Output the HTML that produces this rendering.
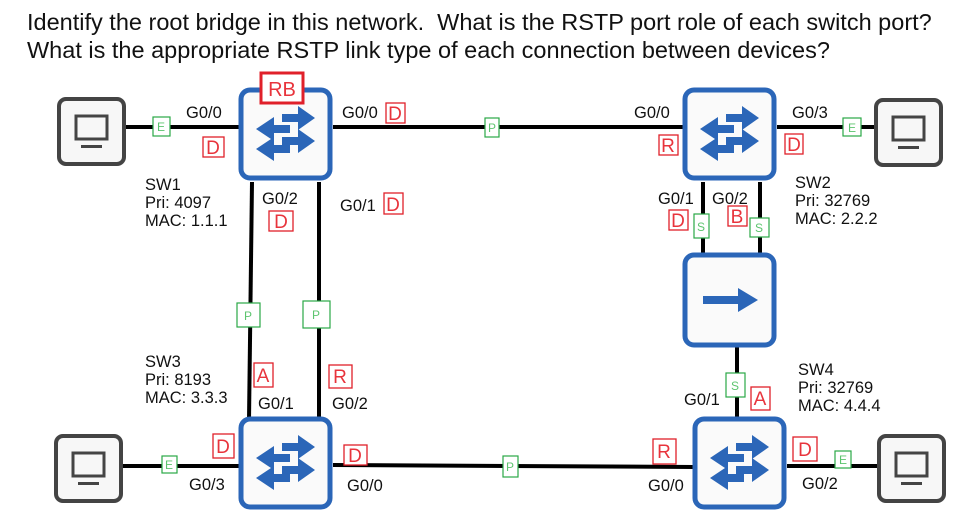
<!DOCTYPE html>
<html><head><meta charset="utf-8"><style>
html,body{margin:0;padding:0;background:#fff;}
svg{display:block;}
text{font-family:"Liberation Sans",Arial,sans-serif;}
</style></head><body>
<svg width="972" height="518" viewBox="0 0 972 518" xmlns="http://www.w3.org/2000/svg">
<defs>
<g id="sw">
<rect x="3" y="3" width="89" height="88" rx="9" fill="#fafafa" stroke="#2b66b8" stroke-width="5"/>
<polygon points="44,27 60,27 60,19 77,31 60,43 60,35 44,35" fill="#2b66b8"/>
<polygon points="44,50 60,50 60,42 77,54 60,66 60,58 44,58" fill="#2b66b8"/>
<polygon points="52,38 36,38 36,30 18,42 36,54 36,46 52,46" fill="#2b66b8"/>
<polygon points="52,58 36,58 36,50 18,62 36,74 36,66 52,66" fill="#2b66b8"/>
</g>
<g id="pc">
<rect x="2" y="2" width="65" height="65" rx="7" fill="#f7f7f7" stroke="#444" stroke-width="4"/>
<rect x="19" y="19" width="31" height="23" fill="none" stroke="#444" stroke-width="3"/>
<rect x="24" y="48" width="21" height="3" fill="#444"/>
</g>
</defs>
<text x="27" y="30" font-size="23.5" fill="#111">Identify the root bridge in this network.&#160; What is the RSTP port role of each switch port?</text>
<text x="27" y="58" font-size="23.5" fill="#111">What is the appropriate RSTP link type of each connection between devices?</text>

<g stroke="#000" stroke-width="4" fill="none">
<line x1="125" y1="127" x2="240" y2="127"/>
<line x1="333" y1="127" x2="684" y2="127"/>
<line x1="777" y1="127" x2="876" y2="127"/>
<line x1="252" y1="182" x2="249" y2="420"/>
<line x1="319" y1="182" x2="319" y2="420"/>
<line x1="703" y1="182" x2="703" y2="255"/>
<line x1="760" y1="182" x2="760" y2="255"/>
<line x1="737" y1="346" x2="737" y2="420"/>
<line x1="122" y1="466" x2="240" y2="466"/>
<line x1="333" y1="465" x2="694" y2="467"/>
<line x1="787" y1="466" x2="878" y2="466"/>
</g>

<use href="#sw" x="238" y="87"/>
<use href="#sw" x="682" y="87"/>
<use href="#sw" x="238" y="416"/>
<use href="#sw" x="692" y="416"/>
<g>
<rect x="685" y="255" width="89" height="90" rx="9" fill="#fafafa" stroke="#2b66b8" stroke-width="5"/>
<polygon points="703,296 738,296 738,288 758,300 738,312 738,304 703,304" fill="#2b66b8"/>
</g>
<use href="#pc" x="57" y="97"/>
<use href="#pc" x="874" y="98"/>
<use href="#pc" x="54" y="434"/>
<use href="#pc" x="877" y="434"/>

<rect x="261" y="73" width="42" height="30" fill="#fff" stroke="#e0202a" stroke-width="3"/>
<text x="282" y="96" font-size="20" fill="#e8343c" text-anchor="middle">RB</text>

<g font-size="16.5" fill="#111">
<text x="186" y="118">G0/0</text>
<text x="342" y="118">G0/0</text>
<text x="262" y="204">G0/2</text>
<text x="340" y="211">G0/1</text>
<text x="145" y="190">SW1</text>
<text x="145" y="208">Pri: 4097</text>
<text x="145" y="226">MAC: 1.1.1</text>
<text x="634" y="118">G0/0</text>
<text x="792" y="118">G0/3</text>
<text x="658" y="204">G0/1</text>
<text x="712" y="204">G0/2</text>
<text x="795" y="188">SW2</text>
<text x="795" y="206">Pri: 32769</text>
<text x="795" y="224">MAC: 2.2.2</text>
<text x="145" y="367">SW3</text>
<text x="145" y="385">Pri: 8193</text>
<text x="145" y="403">MAC: 3.3.3</text>
<text x="258" y="409">G0/1</text>
<text x="332" y="409">G0/2</text>
<text x="189" y="490">G0/3</text>
<text x="347" y="491">G0/0</text>
<text x="798" y="375">SW4</text>
<text x="798" y="393">Pri: 32769</text>
<text x="798" y="411">MAC: 4.4.4</text>
<text x="684" y="405">G0/1</text>
<text x="648" y="491">G0/0</text>
<text x="802" y="489">G0/2</text>
</g>

<g fill="#fff" stroke="#e0202a" stroke-width="1.3">
<rect x="203" y="137" width="21" height="20"/>
<rect x="386" y="103" width="19" height="20"/>
<rect x="269" y="211" width="24" height="20"/>
<rect x="384" y="193" width="19" height="21"/>
<rect x="659" y="135" width="19" height="20"/>
<rect x="785" y="134" width="18" height="20"/>
<rect x="669" y="210" width="19" height="20"/>
<rect x="728" y="206" width="19" height="20"/>
<rect x="254" y="363" width="19" height="24"/>
<rect x="329" y="365" width="23" height="23"/>
<rect x="213" y="434" width="21" height="24"/>
<rect x="344" y="445" width="23" height="20"/>
<rect x="751" y="387" width="19" height="23"/>
<rect x="653" y="439" width="23" height="25"/>
<rect x="793" y="437" width="24" height="24"/>
</g>
<g font-size="19" fill="#e8343c" text-anchor="middle">
<text x="213" y="154">D</text>
<text x="395" y="120">D</text>
<text x="281" y="228">D</text>
<text x="393" y="211">D</text>
<text x="668" y="152">R</text>
<text x="794" y="151">D</text>
<text x="678" y="227">D</text>
<text x="737" y="223">B</text>
<text x="263" y="382">A</text>
<text x="340" y="383">R</text>
<text x="223" y="453">D</text>
<text x="355" y="462">D</text>
<text x="760" y="405">A</text>
<text x="664" y="458">R</text>
<text x="805" y="456">D</text>
</g>

<g fill="#fff" stroke="#2aa845" stroke-width="1.2">
<rect x="153" y="117" width="17" height="19"/>
<rect x="843" y="118" width="18" height="18"/>
<rect x="694" y="214" width="15" height="24"/>
<rect x="750" y="218" width="19" height="19"/>
<rect x="237" y="303" width="23" height="24"/>
<rect x="303" y="301" width="27" height="27"/>
<rect x="485" y="118" width="14" height="19"/>
<rect x="726" y="373" width="19" height="24"/>
<rect x="162" y="456" width="15" height="17"/>
<rect x="503" y="456" width="15" height="21"/>
<rect x="835" y="451" width="16" height="17"/>
</g>
<g font-size="12" fill="#5cc46e" text-anchor="middle">
<text x="161" y="131">E</text>
<text x="852" y="132">E</text>
<text x="701" y="231">S</text>
<text x="759" y="232">S</text>
<text x="248" y="320">P</text>
<text x="316" y="319">P</text>
<text x="492" y="132">P</text>
<text x="735" y="390">S</text>
<text x="169" y="469">E</text>
<text x="510" y="471">P</text>
<text x="843" y="464">E</text>
</g>
</svg>
</body></html>
